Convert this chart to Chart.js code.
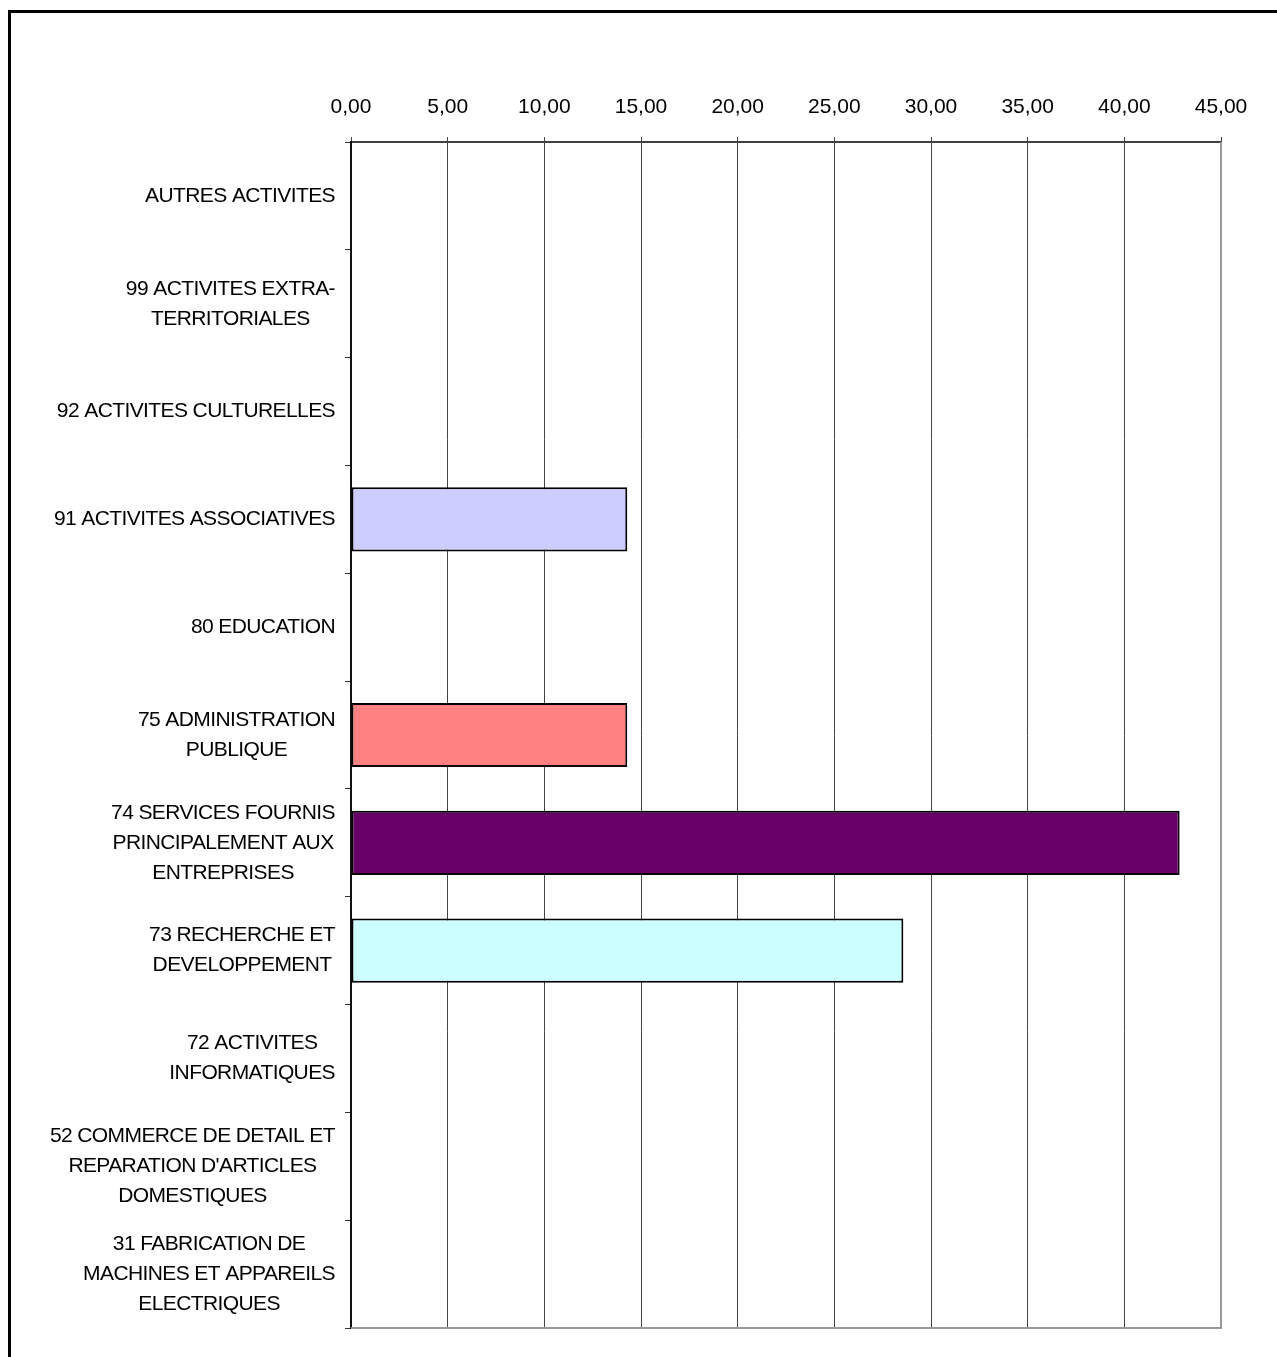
<!DOCTYPE html>
<html>
<head>
<meta charset="utf-8">
<script src="https://cdn.jsdelivr.net/npm/chart.js@4/dist/chart.umd.min.js"></script>
<style>
  html, body { margin: 0; padding: 0; background: #fff; }
  #wrap { position: relative; width: 1277px; height: 1357px; }
</style>
</head>
<body>
<div id="wrap"><canvas id="sectorChart"></canvas></div>
<script>
// Categories (top to bottom), each label split into its lines
const sectors = [
    ['AUTRES ACTIVITES'],
    ['99 ACTIVITES EXTRA-', 'TERRITORIALES'],
    ['92 ACTIVITES CULTURELLES'],
    ['91 ACTIVITES ASSOCIATIVES'],
    ['80 EDUCATION'],
    ['75 ADMINISTRATION', 'PUBLIQUE'],
    ['74 SERVICES FOURNIS', 'PRINCIPALEMENT AUX', 'ENTREPRISES'],
    ['73 RECHERCHE ET', 'DEVELOPPEMENT'],
    ['72 ACTIVITES', 'INFORMATIQUES'],
    ['52 COMMERCE DE DETAIL ET', 'REPARATION D\'ARTICLES', 'DOMESTIQUES'],
    ['31 FABRICATION DE', 'MACHINES ET APPAREILS', 'ELECTRIQUES']
];
const shares = [null, null, null, 14.29, null, 14.29, 42.86, 28.57, null, null, null];
const barColors = ['#9999FF', '#993366', '#FFFFCC', '#CCCCFF', '#660066', '#FF8080', '#660066', '#CCFFFF', '#000080', '#FF00FF', '#FFFF00'];
const axisMin = 0, axisMax = 45, axisStep = 5;

const FONT = '"Liberation Sans", Arial, sans-serif';

// frame around the whole chart (left and top edges visible)
const framePlugin = {
    id: 'frame',
    beforeDraw(chart) {
        const ctx = chart.ctx;
        ctx.save();
        ctx.fillStyle = '#000';
        ctx.fillRect(8, 10, 3, chart.height);
        ctx.fillRect(8, 10, chart.width, 3);
        ctx.restore();
    },
    afterDatasetsDraw(chart) {
        const { ctx, chartArea: a } = chart;
        ctx.save();
        ctx.strokeStyle = '#999';
        ctx.lineWidth = 2;
        ctx.beginPath();
        ctx.moveTo(a.left, a.bottom);
        ctx.lineTo(a.right, a.bottom);
        ctx.lineTo(a.right, a.top);
        ctx.stroke();
        ctx.restore();
    }
};

// category labels: block right-aligned to the axis, lines centred within it
const labelPlugin = {
    id: 'sectorLabels',
    afterDraw(chart) {
        const ctx = chart.ctx;
        const yScale = chart.scales.y;
        ctx.save();
        ctx.font = '21px ' + FONT;
        if ('letterSpacing' in ctx) ctx.letterSpacing = '-0.6px';
        ctx.fillStyle = '#000';
        ctx.textAlign = 'center';
        ctx.textBaseline = 'middle';
        sectors.forEach((lines, i) => {
            const y = yScale.getPixelForValue(i);
            const widest = Math.max(...lines.map(l => ctx.measureText(l).width));
            const cx = yScale.right - 16 - widest / 2;
            lines.forEach((line, j) => {
                ctx.fillText(line, cx, y + (j - (lines.length - 1) / 2) * 30);
            });
        });
        ctx.restore();
    }
};

new Chart(document.getElementById('sectorChart'), {
    type: 'bar',
    data: {
        labels: sectors,
        datasets: [{
            data: shares,
            backgroundColor: barColors,
            borderColor: '#000',
            borderWidth: 2,
            borderSkipped: false,
            categoryPercentage: 1,
            barPercentage: 0.595
        }]
    },
    options: {
        indexAxis: 'y',
        responsive: true,
        maintainAspectRatio: false,
        animation: false,
        layout: { padding: { left: 0, right: 56, top: 0, bottom: 29 } },
        plugins: { legend: { display: false }, tooltip: { enabled: false } },
        scales: {
            x: {
                position: 'top',
                min: axisMin,
                max: axisMax,
                afterFit: s => { s.height = 142; },
                ticks: {
                    stepSize: axisStep,
                    padding: 17,
                    color: '#000',
                    font: { family: FONT, size: 21 },
                    callback: v => v.toFixed(2).replace('.', ',')
                },
                grid: { color: '#444', lineWidth: 1, tickLength: 5 },
                border: { color: '#404040', width: 2 }
            },
            y: {
                afterFit: s => { s.width = 351; },
                ticks: { display: false },
                grid: { drawOnChartArea: false, color: '#333', tickLength: 6 },
                border: { color: '#111', width: 2 }
            }
        }
    },
    plugins: [framePlugin, labelPlugin]
});
</script>
</body>
</html>
